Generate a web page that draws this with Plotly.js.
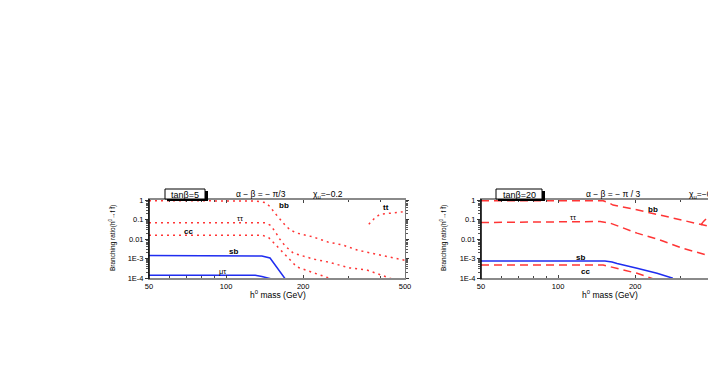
<!DOCTYPE html>
<html>
<head>
<meta charset="utf-8">
<script src="https://cdn.plot.ly/plotly-3.0.1.min.js"></script>
<style>
  html, body { margin: 0; padding: 0; overflow: hidden; background: #fff; }
  #plot { width: 740px; height: 382px; }
</style>
</head>
<body>
<div id="plot"></div>
<script>
// h0 mass (GeV) vs branching ratio, tan beta = 5 (left, dotted)
var m5_bb = [50, 80, 130, 142, 148.5, 155, 162, 170, 178, 189, 219, 250, 286, 325, 399, 492, 500];
var br5_bb = [0.92, 0.92, 0.89, 0.74, 0.46, 0.215, 0.106, 0.052, 0.029, 0.020, 0.0127, 0.0070, 0.0049, 0.00273, 0.00151, 0.00084, 0.0008];
var m5_tautau = [50, 100, 142, 148.5, 155, 162, 170, 183, 219, 250, 305, 355, 425, 457];
var br5_tautau = [0.068, 0.068, 0.068, 0.052, 0.0257, 0.010, 0.0044, 0.0019, 0.00094, 0.00066, 0.000326, 0.000257, 0.000112, 0.000079];
var m5_cc = [50, 100, 138, 146, 152.5, 159.5, 167, 178, 189, 216, 250, 266];
var br5_cc = [0.0155, 0.0155, 0.0155, 0.0127, 0.0070, 0.0039, 0.00216, 0.00084, 0.00037, 0.00020, 0.000112, 0.000079];
var m5_tt = [361, 370, 382, 399, 429, 464, 492, 500];
var br5_tt = [0.057, 0.084, 0.124, 0.185, 0.208, 0.234, 0.251, 0.253];
var m5_sb = [50, 100, 124, 138, 148.5, 169, 171.5];
var br5_sb = [0.00143, 0.00143, 0.00143, 0.00134, 0.00106, 0.0001, 0.000079];
var m5_mutau = [50, 100, 130, 138, 146, 153];
var br5_mutau = [0.000137, 0.000137, 0.000137, 0.000119, 0.000102, 0.000085];

// tan beta = 20 (right, dashed)
var m20_bb = [50, 100, 150, 157, 164, 205, 250, 308, 368, 400, 500];
var br20_bb = [0.92, 0.92, 0.92, 0.74, 0.55, 0.307, 0.170, 0.087, 0.052, 0.041, 0.023];
var m20_tautau = [50, 100, 146, 159.5, 203.5, 250, 308, 382, 500];
var br20_tautau = [0.070, 0.074, 0.079, 0.066, 0.020, 0.0089, 0.0033, 0.0015, 0.00052];
var m20_sb = [50, 100, 152.5, 162.5, 170, 203.5, 243.5, 281];
var br20_sb = [0.00074, 0.00074, 0.00074, 0.00066, 0.00055, 0.000314, 0.000174, 0.000097];
var m20_cc = [50, 100, 150, 159.5, 203.5, 222.5, 239];
var br20_cc = [0.00046, 0.00046, 0.00046, 0.00038, 0.000174, 0.000117, 0.000084];
var m20_tt = [361, 370, 382, 399, 429, 464, 500];
var br20_tt = [0.052, 0.08, 0.12, 0.17, 0.2, 0.22, 0.23];

var xTicks = [50, 100, 200, 500];
var xMinor = [60, 70, 80, 90, 300, 400];
var yTicks = [1e-4, 1e-3, 0.01, 0.1, 1];
var yTickText = ['1E-4', '1E-3', '0.01', '0.1', '1'];

var W = 740, H = 382;
function px(v) { return v / W; }
function py(v) { return 1 - v / H; }

var red = '#ff3535';
var blue = '#1f2df0';
var dotted = '2px,4px';
var dashed = '8px,5px';

function curve(x, y, color, dash, xa, ya) {
  return {
    x: x, y: y, xaxis: xa, yaxis: ya,
    mode: 'lines', type: 'scatter',
    line: {color: color, width: 1.5, dash: dash},
    hoverinfo: 'skip', showlegend: false
  };
}

var data = [
  curve(m5_bb, br5_bb, red, dotted, 'x', 'y'),
  curve(m5_tautau, br5_tautau, red, dotted, 'x', 'y'),
  curve(m5_cc, br5_cc, red, dotted, 'x', 'y'),
  curve(m5_tt, br5_tt, red, dotted, 'x', 'y'),
  curve(m5_sb, br5_sb, blue, 'solid', 'x', 'y'),
  curve(m5_mutau, br5_mutau, blue, 'solid', 'x', 'y'),
  curve(m20_bb, br20_bb, red, dashed, 'x2', 'y2'),
  curve(m20_tautau, br20_tautau, red, dashed, 'x2', 'y2'),
  curve(m20_sb, br20_sb, blue, 'solid', 'x2', 'y2'),
  curve(m20_cc, br20_cc, red, dashed, 'x2', 'y2'),
  curve(m20_tt, br20_tt, red, dashed, 'x2', 'y2')
];

// minor y ticks 2..9 in each decade
var yMinor = [];
[1e-4, 1e-3, 1e-2, 1e-1].forEach(function(d) {
  for (var k = 2; k <= 9; k++) yMinor.push(k * d);
});

var fontTick = {family: 'Liberation Sans, Arial, sans-serif', size: 7.5, color: '#000'};

function xAxis(dom, anchor) {
  return {
    type: 'log', domain: dom, anchor: anchor,
    range: [Math.log10(50), Math.log10(500)],
    tickmode: 'array', tickvals: xTicks, ticktext: xTicks.map(String),
    ticks: 'inside', ticklen: 3, tickcolor: '#444',
    minor: {tickmode: 'array', tickvals: xMinor, ticks: 'inside', ticklen: 2, tickcolor: '#444'},
    showline: true, linecolor: '#8a8a8a', linewidth: 2, mirror: 'allticks',
    showgrid: false, zeroline: false, tickfont: fontTick
  };
}
function yAxis(anchor) {
  return {
    type: 'log', domain: [1 - 278 / H, 1 - 200 / H], anchor: anchor,
    range: [-4, 0],
    tickmode: 'array', tickvals: yTicks, ticktext: yTickText,
    ticks: 'outside', ticklen: 3, tickcolor: '#333',
    minor: {tickmode: 'array', tickvals: yMinor, ticks: 'outside', ticklen: 2, tickcolor: '#555'},
    showline: true, linecolor: '#777', linewidth: 1, mirror: 'allticks',
    showgrid: false, zeroline: false, tickfont: fontTick
  };
}

function label(x, y, text, size, bold, extra) {
  var a = {
    xref: 'paper', yref: 'paper', x: px(x), y: py(y),
    xanchor: 'center', yanchor: 'middle', showarrow: false,
    text: bold ? '<b>' + text + '</b>' : text,
    font: {family: 'Liberation Sans, Arial, sans-serif', size: size, color: '#000'}
  };
  for (var k in extra) a[k] = extra[k];
  return a;
}

var annotations = [
  // left panel
  label(185, 194.5, 'tanβ=5', 9, false),
  label(261, 194, 'α − β = − π/3', 8.5, false),
  label(328, 194, 'χ<sub>u</sub>=−0.2', 8.5, false),
  label(284, 205, 'bb', 8, true),
  label(240, 218, 'ττ', 7.5, false),
  label(188, 231.5, 'cc', 8, true),
  label(233, 251.5, 'sb', 8, true),
  label(223, 271.5, 'μτ', 7.5, false),
  label(386, 207, 'tt', 8, true),
  label(278, 294, 'h<sup>0</sup> mass (GeV)', 8.5, false),
  label(112, 238, 'Branching ratio(h<sup>0</sup>→f f̄)', 6.5, false, {textangle: -90}),
  // right panel
  label(519, 194.5, 'tanβ=20', 9, false),
  label(613, 194, 'α − β = − π / 3', 8.5, false),
  label(687, 194, 'χ<sub>u</sub>=−0.2', 8.5, false, {xanchor: 'left'}),
  label(653, 209, 'bb', 8, true),
  label(573, 217.5, 'ττ', 7.5, false),
  label(580, 257, 'sb', 8, true),
  label(585, 271.5, 'cc', 8, true),
  label(610, 294, 'h<sup>0</sup> mass (GeV)', 8.5, false),
  label(443, 238, 'Branching ratio(h<sup>0</sup>→f f̄)', 6.5, false, {textangle: -90})
];

function rect(x0, y0, x1, y1, fill, lineColor) {
  return {
    type: 'rect', xref: 'paper', yref: 'paper',
    x0: px(x0), x1: px(x1), y0: py(y1), y1: py(y0),
    fillcolor: fill, line: {color: lineColor, width: lineColor ? 1 : 0}, layer: 'above'
  };
}
function vline(x, y0, y1, color, w) {
  return {
    type: 'line', xref: 'paper', yref: 'paper',
    x0: px(x), x1: px(x), y0: py(y1), y1: py(y0),
    line: {color: color, width: w}, layer: 'above'
  };
}

var shapes = [
  vline(149, 199, 279, '#000', 1.5),
  vline(481, 199, 279, '#000', 1.5),
  rect(167, 191, 208, 201, '#000', null),
  rect(165, 189, 205, 199, '#fff', '#000'),
  rect(498, 191, 545, 201, '#000', null),
  rect(496, 189, 542, 199, '#fff', '#000')
];

var layout = {
  width: W, height: H,
  margin: {l: 0, r: 0, t: 0, b: 0},
  paper_bgcolor: '#fff', plot_bgcolor: '#fff',
  showlegend: false,
  xaxis: xAxis([149 / W, 405 / W], 'y'),
  yaxis: yAxis('x'),
  xaxis2: xAxis([481 / W, 737 / W], 'y2'),
  yaxis2: yAxis('x2'),
  annotations: annotations,
  shapes: shapes
};

Plotly.newPlot('plot', data, layout, {displayModeBar: false, staticPlot: true});
</script>
</body>
</html>
